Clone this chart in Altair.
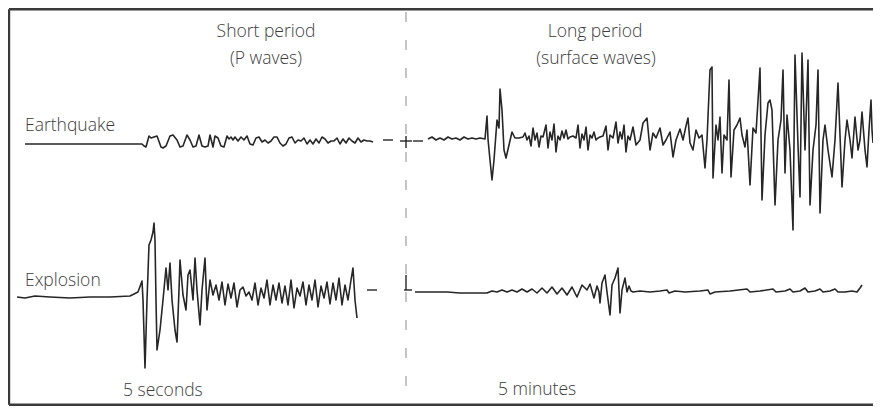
import altair as alt
import pandas as pd

# ---- traces (x along the record, y = pen position, down = larger) ----
EQ_SHORT_X = [25, 142, 144, 146, 149, 151, 157, 161, 163, 166, 170, 173, 177, 180, 183, 187, 190, 193, 196, 199,
              202, 205, 208, 210, 213, 215, 218, 221, 224, 227, 229, 231, 233, 235, 238, 241, 244, 247, 250, 253,
              256, 259, 262, 265, 268, 271, 274, 277, 280, 283, 286, 289, 292, 295, 298, 301, 304, 307, 310, 313,
              316, 319, 322, 325, 328, 331, 334, 337, 340, 343, 346, 349, 352, 355, 358, 361, 364, 367, 370, 373]
EQ_SHORT_Y = [144, 144, 146, 147, 136, 138, 136, 147, 148, 146, 136, 135, 140, 147, 146, 135, 140, 147, 146, 135,
              146, 147, 146, 135, 147, 136, 138, 146, 147, 136, 139, 137, 140, 137, 141, 137, 140, 136, 144, 145,
              138, 137, 142, 140, 143, 141, 137, 137, 143, 146, 144, 138, 137, 143, 140, 141, 138, 144, 140, 144,
              139, 143, 137, 139, 143, 141, 141, 138, 144, 139, 143, 138, 141, 143, 138, 142, 140, 141, 141, 142]

EQ_LONG_X = [428, 432, 436, 440, 444, 448, 452, 456, 460, 464, 468, 472, 476, 480, 485, 487, 488, 490, 492, 494,
             497, 499, 500, 502, 504, 506, 509, 512, 515, 519, 523, 525, 527, 529, 531, 533, 535, 537, 539, 541,
             543, 546, 548, 550, 552, 554, 556, 558, 560, 562, 564, 566, 568, 570, 573, 576, 578, 580, 582, 584,
             586, 588, 590, 592, 594, 596, 598, 600, 603, 606, 608, 610, 613, 616, 618, 620, 622, 624, 626, 628,
             630, 633, 636, 640, 643, 647, 650, 653, 656, 660, 663, 666, 670, 673, 676, 680, 683, 686, 688, 690,
             693, 696, 699, 702, 705, 707, 710, 712, 713, 716, 718, 720, 722, 724, 727, 729, 731, 734, 737, 740,
             742, 745, 747, 750, 753, 756, 760, 762, 765, 768, 770, 772, 775, 778, 781, 783, 785, 787, 790, 793,
             795, 798, 800, 802, 805, 808, 810, 813, 816, 818, 820, 823, 825, 828, 832, 835, 838, 842, 845, 847,
             850, 852, 855, 858, 860, 862, 865, 867, 869, 871, 872, 873]
EQ_LONG_Y = [139, 137, 140, 138, 140, 137, 139, 138, 140, 137, 139, 138, 139, 138, 139, 116, 139, 160, 180, 160,
             120, 128, 89, 110, 150, 158, 145, 132, 138, 138, 137, 133, 140, 136, 146, 128, 140, 133, 147, 136,
             137, 125, 148, 132, 140, 124, 152, 136, 140, 131, 138, 130, 139, 137, 136, 138, 125, 148, 134, 140,
             127, 150, 135, 138, 132, 140, 138, 137, 136, 126, 150, 135, 138, 122, 143, 132, 139, 125, 152, 136,
             140, 127, 145, 140, 123, 118, 150, 133, 138, 128, 145, 140, 132, 157, 140, 129, 140, 126, 118, 143,
             150, 130, 138, 135, 168, 140, 70, 67, 178, 125, 140, 117, 173, 135, 140, 80, 177, 130, 125, 118,
             135, 147, 130, 185, 128, 133, 68, 200, 135, 103, 100, 110, 205, 140, 120, 70, 173, 115, 150, 230,
             55, 145, 197, 53, 150, 60, 205, 150, 125, 70, 213, 140, 125, 150, 177, 140, 83, 187, 140, 120,
             140, 158, 117, 150, 140, 112, 150, 167, 130, 100, 130, 143]

EX_SHORT_X = [17, 25, 35, 50, 70, 90, 110, 130, 138, 142, 143, 145, 147, 149, 151, 153, 154, 155, 156, 157,
              160, 163, 166, 168, 170, 172, 175, 177, 179, 180, 183, 186, 188, 190, 193, 195, 197, 200, 202, 205,
              207, 210, 213, 216, 219, 222, 225, 228, 231, 234, 237, 240, 243, 246, 249, 252, 255, 258, 261, 264,
              267, 270, 273, 276, 279, 282, 285, 288, 291, 294, 297, 300, 303, 306, 309, 312, 315, 318, 321, 324,
              327, 330, 333, 336, 339, 342, 345, 348, 351, 353, 355, 357]
EX_SHORT_Y = [297, 298, 296, 297, 298, 297, 297, 296, 292, 281, 300, 368, 300, 245, 240, 232, 223, 240, 300, 350,
              330, 300, 268, 290, 263, 300, 330, 342, 290, 260, 295, 310, 275, 270, 300, 258, 290, 325, 290, 258,
              310, 280, 295, 285, 300, 282, 305, 284, 298, 283, 307, 290, 287, 296, 292, 300, 283, 305, 288, 298,
              280, 305, 285, 300, 283, 303, 286, 305, 280, 308, 288, 296, 282, 305, 285, 300, 280, 307, 286, 298,
              282, 304, 283, 300, 278, 305, 285, 300, 280, 268, 300, 318]

EX_LONG_X = [415, 430, 447, 460, 475, 487, 492, 497, 502, 507, 512, 517, 522, 527, 532, 537, 542, 547, 552, 557,
             562, 567, 572, 577, 582, 587, 590, 594, 597, 599, 600, 602, 605, 607, 610, 612, 615, 618, 620, 622,
             625, 627, 629, 631, 633, 640, 650, 660, 667, 669, 675, 685, 700, 708, 710, 715, 730, 747, 750, 760,
             773, 776, 785, 790, 793, 800, 805, 808, 815, 820, 823, 830, 835, 838, 845, 852, 857, 860, 862]
EX_LONG_Y = [292, 292, 292, 293, 293, 293, 291, 292, 290, 292, 290, 292, 289, 292, 289, 293, 288, 293, 287, 294,
             288, 295, 287, 297, 285, 290, 284, 298, 286, 292, 303, 283, 275, 292, 315, 285, 278, 268, 313, 290,
             278, 292, 286, 291, 292, 291, 292, 291, 290, 293, 291, 292, 291, 290, 294, 292, 291, 289, 292, 291,
             289, 292, 291, 289, 292, 291, 288, 292, 291, 289, 292, 291, 289, 292, 292, 291, 292, 288, 285]

# short strokes: the pen marks between the two records (x1, x2, y1, y2)
MARK_X1 = [383, 400, 413, 406, 404, 367, 406]
MARK_X2 = [393, 412, 423, 406, 412, 377, 406]
MARK_Y1 = [140, 141, 141, 136, 290, 290, 275]
MARK_Y2 = [140, 141, 141, 148, 290, 290, 290]

LABELS = ["Short period", "(P waves)", "Long period", "(surface waves)",
          "Earthquake", "Explosion", "5 seconds", "5 minutes"]
LABEL_X = [266, 266, 595, 596, 25, 25, 123, 498]
LABEL_Y = [32, 59, 32, 59, 126, 281, 391, 390]
LABEL_ALIGN = ["center", "center", "center", "center", "left", "left", "left", "left"]

INK = "#262626"

frames = []
for name, xs, ys in [("eq_short", EQ_SHORT_X, EQ_SHORT_Y), ("eq_long", EQ_LONG_X, EQ_LONG_Y),
                     ("ex_short", EX_SHORT_X, EX_SHORT_Y), ("ex_long", EX_LONG_X, EX_LONG_Y)]:
    frames.append(pd.DataFrame({"x": xs, "y": ys, "trace": name, "i": list(range(len(xs)))}))
traces = pd.concat(frames, ignore_index=True)

marks = pd.DataFrame({"x": MARK_X1, "x2": MARK_X2, "y": MARK_Y1, "y2": MARK_Y2})
labels = pd.DataFrame({"label": LABELS, "x": LABEL_X, "y": LABEL_Y, "align": LABEL_ALIGN})
box = pd.DataFrame({"x": [9, 9, 9], "x2": [9, 873, 873], "y": [9.2, 9.2, 404.8], "y2": [404.8, 9.2, 404.8]})
divider = pd.DataFrame({"x": [406], "x2": [406], "y": [12], "y2": [404]})

xs = alt.Scale(domain=[8, 873], nice=False, zero=False)
ys = alt.Scale(domain=[8, 406], nice=False, zero=False, reverse=True)

lines = alt.Chart(traces).mark_line(color=INK, strokeWidth=1.6, strokeJoin="round").encode(
    x=alt.X("x:Q", scale=xs, axis=None),
    y=alt.Y("y:Q", scale=ys, axis=None),
    detail="trace:N",
    order="i:Q",
)

pen = alt.Chart(marks).mark_rule(color=INK, strokeWidth=1.4).encode(
    x=alt.X("x:Q", scale=xs, axis=None), x2="x2:Q",
    y=alt.Y("y:Q", scale=ys, axis=None), y2="y2:Q",
)

frame = alt.Chart(box).mark_rule(color="#3a3a3a", strokeWidth=2.4).encode(
    x=alt.X("x:Q", scale=xs, axis=None), x2="x2:Q",
    y=alt.Y("y:Q", scale=ys, axis=None), y2="y2:Q",
)

div = alt.Chart(divider).mark_rule(color="#8a8a8a", strokeWidth=1, strokeDash=[10, 18]).encode(
    x=alt.X("x:Q", scale=xs, axis=None), x2="x2:Q",
    y=alt.Y("y:Q", scale=ys, axis=None), y2="y2:Q",
)

def text_layer(align):
    return alt.Chart(labels[labels["align"] == align]).mark_text(
        font="Open Sans", fontSize=17.5, fontWeight=300, color="#3c3c3c", align=align, baseline="middle"
    ).encode(
        x=alt.X("x:Q", scale=xs, axis=None),
        y=alt.Y("y:Q", scale=ys, axis=None),
        text="label:N",
    )

chart = alt.layer(div, frame, pen, lines, text_layer("center"), text_layer("left")).properties(
    width=865, height=398, padding=0, autosize=alt.AutoSizeParams(type="none"), background="white"
).configure_view(strokeWidth=0)

chart.save("out.html", embed_options={"renderer": "svg", "actions": False})
